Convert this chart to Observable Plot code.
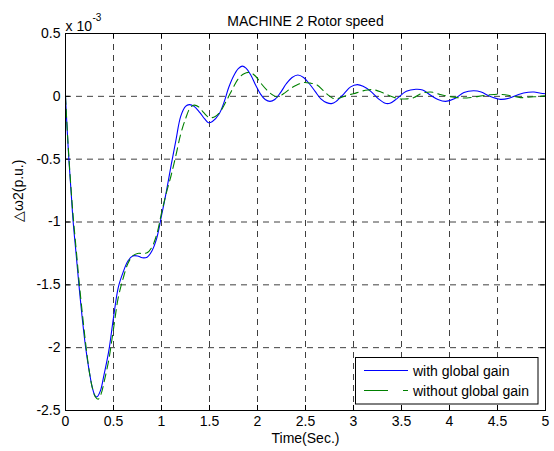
<!DOCTYPE html>
<html><head><meta charset="utf-8">
<script src="https://cdn.jsdelivr.net/npm/d3@7"></script>
<script src="https://cdn.jsdelivr.net/npm/@observablehq/plot@0.6"></script>
<style>
body{margin:0;background:#fff;font-family:"Liberation Sans",Arial,sans-serif}
#wrap{position:relative;width:554px;height:451px}
#legend{position:absolute;left:0;top:0}
</style>
</head><body><div id="wrap"></div>
<script>
const title = "MACHINE 2 Rotor speed";
const xLabel = "Time(Sec.)";
const yLabel = "△ω2(p.u.)";
const scaleNote = "x 10";
const scaleExp = "-3";
const seriesNames = ["with global gain", "without global gain"];
const seriesColors = ["#0000ff", "#008000"];
const xTicks = [0, 0.5, 1, 1.5, 2, 2.5, 3, 3.5, 4, 4.5, 5];
const yTicks = [-2.5, -2, -1.5, -1, -0.5, 0, 0.5];

// with global gain (x 1e-3)
const tBlue = [0,0.01,0.035,0.06,0.08,0.11,0.14,0.175,0.21,0.25,0.28,0.31,0.33,0.365,0.40,0.45,0.50,0.55,0.60,0.65,0.70,0.75,0.80,0.85,0.90,0.95,1.00,1.05,1.10,1.15,1.20,1.25,1.29,1.34,1.40,1.45,1.49,1.53,1.60,1.65,1.70,1.75,1.80,1.84,1.88,1.93,1.98,2.03,2.08,2.13,2.18,2.24,2.30,2.36,2.42,2.48,2.54,2.60,2.66,2.72,2.77,2.82,2.90,2.97,3.04,3.10,3.18,3.26,3.33,3.38,3.45,3.55,3.65,3.72,3.80,3.88,3.96,4.05,4.15,4.25,4.33,4.42,4.53,4.62,4.72,4.82,4.88,4.95,5.0];
const vBlue = [0,-0.16,-0.5,-0.78,-1.0,-1.25,-1.5,-1.77,-2.0,-2.2,-2.32,-2.385,-2.39,-2.34,-2.22,-2.03,-1.76,-1.52,-1.4,-1.31,-1.27,-1.27,-1.285,-1.28,-1.23,-1.13,-0.95,-0.76,-0.55,-0.35,-0.16,-0.08,-0.066,-0.08,-0.13,-0.18,-0.21,-0.2,-0.14,-0.05,0.07,0.16,0.22,0.24,0.225,0.17,0.09,0.02,-0.025,-0.04,-0.025,0.03,0.1,0.15,0.17,0.15,0.1,0.04,-0.02,-0.05,-0.058,-0.04,0.02,0.075,0.093,0.08,0.04,-0.02,-0.055,-0.055,-0.02,0.04,0.056,0.05,0.01,-0.025,-0.04,-0.02,0.03,0.045,0.035,0.0,-0.024,-0.015,0.015,0.032,0.034,0.025,0.02];

// without global gain (x 1e-3)
const tGreen = [0,0.01,0.035,0.06,0.085,0.115,0.145,0.18,0.215,0.25,0.28,0.31,0.34,0.37,0.40,0.45,0.50,0.55,0.60,0.65,0.70,0.75,0.80,0.85,0.90,0.95,1.00,1.05,1.10,1.15,1.20,1.25,1.30,1.34,1.39,1.44,1.50,1.56,1.61,1.68,1.75,1.80,1.86,1.92,1.98,2.04,2.10,2.16,2.21,2.27,2.34,2.41,2.48,2.55,2.62,2.68,2.74,2.80,2.87,2.94,3.00,3.08,3.15,3.21,3.30,3.39,3.48,3.56,3.63,3.70,3.80,3.90,3.97,4.08,4.18,4.30,4.42,4.53,4.64,4.74,4.85,4.95,5.0];
const vGreen = [0,-0.15,-0.48,-0.76,-1.0,-1.25,-1.5,-1.76,-2.0,-2.2,-2.32,-2.39,-2.41,-2.37,-2.28,-2.1,-1.85,-1.6,-1.45,-1.33,-1.27,-1.25,-1.25,-1.245,-1.2,-1.1,-0.93,-0.77,-0.63,-0.47,-0.3,-0.18,-0.09,-0.07,-0.085,-0.13,-0.17,-0.16,-0.125,-0.03,0.074,0.14,0.18,0.19,0.16,0.1,0.048,0.01,-0.005,0.02,0.06,0.09,0.11,0.105,0.09,0.05,0.008,-0.02,-0.01,0.01,0.02,0.04,0.05,0.053,0.03,0.0,-0.02,-0.02,-0.01,0.02,0.035,0.015,0.003,-0.01,-0.013,0.0,0.012,0.016,0.005,-0.01,-0.005,0.0,0.005];

const blue = tBlue.map((t, i) => ({t, v: vBlue[i]}));
const green = tGreen.map((t, i) => ({t, v: vGreen[i]}));
const fmt = d => String(d);
const font = "'Liberation Sans', Arial, sans-serif";
const gridStyle = {stroke: "#000", strokeOpacity: 0.75, strokeDasharray: "6,5", strokeWidth: 1};

const chart = Plot.plot({
  width: 554, height: 451,
  marginLeft: 65, marginRight: 9, marginTop: 33, marginBottom: 41,
  style: {fontFamily: font, fontSize: "14px", color: "#000", background: "#fff"},
  x: {domain: [0, 5]},
  y: {domain: [-2.5, 0.5]},
  marks: [
    Plot.ruleX(xTicks.slice(1, -1), gridStyle),
    Plot.ruleY(yTicks.slice(1, -1), gridStyle),
    Plot.ruleX(xTicks, {x: d => d, y1: -2.5, y2: -2.46, stroke: "#000"}),
    Plot.ruleX(xTicks, {x: d => d, y1: 0.5, y2: 0.46, stroke: "#000"}),
    Plot.ruleY(yTicks, {y: d => d, x1: 0, x2: 0.05, stroke: "#000"}),
    Plot.ruleY(yTicks, {y: d => d, x1: 4.95, x2: 5, stroke: "#000"}),
    Plot.line(blue, {x: "t", y: "v", stroke: seriesColors[0], strokeWidth: 1.1, curve: "catmull-rom"}),
    Plot.line(green, {x: "t", y: "v", stroke: seriesColors[1], strokeWidth: 1.1, strokeDasharray: "8,5", curve: "catmull-rom"}),
    Plot.frame({stroke: "#000", strokeWidth: 1}),
    Plot.axisX({ticks: xTicks, tickFormat: fmt, tickSize: 0, tickPadding: 6, label: null, fontSize: 14}),
    Plot.axisY({ticks: yTicks, tickFormat: fmt, tickSize: 0, tickPadding: 5, label: null, fontSize: 14}),
    Plot.text([title], {frameAnchor: "top", dy: -17.5, fontSize: 14, fill: "#000"}),
    Plot.text([scaleNote], {frameAnchor: "top-left", dy: -12.5, textAnchor: "start", fontSize: 14, fill: "#000"}),
    Plot.text([scaleExp], {frameAnchor: "top-left", dx: 27, dy: -20, textAnchor: "start", fontSize: 10, fill: "#000"}),
    Plot.text([xLabel], {frameAnchor: "bottom", dy: 32, fontSize: 14, fill: "#000"}),
    Plot.text([yLabel], {frameAnchor: "left", dx: -47, rotate: -90, fontSize: 14, fill: "#000"})
  ]
});
const wrap = document.getElementById("wrap");
wrap.appendChild(chart);

// legend overlay
const ns = "http://www.w3.org/2000/svg";
const lg = document.createElementNS(ns, "svg");
lg.setAttribute("id", "legend");
lg.setAttribute("width", 554); lg.setAttribute("height", 451);
const box = document.createElementNS(ns, "rect");
Object.entries({x: 355.5, y: 357.5, width: 182.5, height: 46.5, fill: "#fff", stroke: "#000", "stroke-width": 1}).forEach(([k, v]) => box.setAttribute(k, v));
lg.appendChild(box);
seriesNames.forEach((name, i) => {
  const y = 370.5 + i * 20;
  const ln = document.createElementNS(ns, "line");
  Object.entries({x1: 364, x2: 408, y1: y, y2: y, stroke: seriesColors[i], "stroke-width": 1.1}).forEach(([k, v]) => ln.setAttribute(k, v));
  if (i === 1) ln.setAttribute("stroke-dasharray", "24,15");
  lg.appendChild(ln);
  const tx = document.createElementNS(ns, "text");
  tx.setAttribute("x", 413); tx.setAttribute("y", y + 5);
  tx.setAttribute("font-family", font); tx.setAttribute("font-size", 14);
  tx.textContent = name;
  lg.appendChild(tx);
});
wrap.appendChild(lg);
</script>
</body></html>
